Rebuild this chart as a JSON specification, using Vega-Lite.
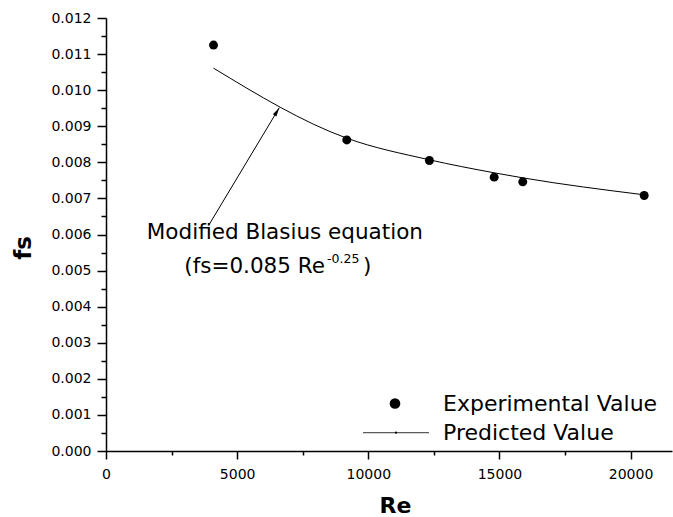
{
  "$schema": "https://vega.github.io/schema/vega-lite/v6.json",
  "width": 566,
  "height": 433,
  "autosize": {"type": "none"},
  "padding": {"left": 106, "top": 18, "right": 1, "bottom": 66},
  "background": "white",
  "config": {
    "view": {"stroke": null},
    "axis": {
      "grid": false,
      "domainColor": "#000000",
      "domainWidth": 1.5,
      "tickColor": "#000000",
      "tickWidth": 1.5,
      "labelFont": "DejaVu Sans",
      "labelFontSize": 14,
      "labelColor": "#000000",
      "titleFont": "DejaVu Sans",
      "titleFontWeight": "bold",
      "titleColor": "#000000",
      "labelOverlap": false,
      "labelFlush": false
    }
  },
  "datasets": {
    "exp": [
      {"Re": 4100, "fs": 0.01125},
      {"Re": 9180, "fs": 0.00862},
      {"Re": 12330, "fs": 0.00805},
      {"Re": 14800, "fs": 0.00759},
      {"Re": 15890, "fs": 0.00746},
      {"Re": 20520, "fs": 0.00708}
    ],
    "pred": [
      {"Re": 4100, "fs": 0.01061},
      {"Re": 9180, "fs": 0.00867},
      {"Re": 12330, "fs": 0.00807},
      {"Re": 14800, "fs": 0.00771},
      {"Re": 15890, "fs": 0.00757},
      {"Re": 20520, "fs": 0.00710}
    ],
    "arrow": [{"Re": 3946, "fs": 0.006291, "Re2": 6607, "fs2": 0.009514}],
    "arrowhead": [{"Re": 6607, "fs": 0.009514}],
    "line1": [{"Re": 6821, "fs": 0.005867, "label": "Modified Blasius equation"}],
    "line2": [{"Re": 8350, "fs": 0.004941, "label": "(fs=0.085 Re"}],
    "sup": [{"Re": 8426, "fs": 0.005219, "label": "-0.25"}],
    "paren": [{"Re": 9799, "fs": 0.004941, "label": ")"}],
    "legsym": [{"Re": 11019, "fs": 0.001316}],
    "legline": [{"Re": 9799, "Re2": 12315, "fs": 0.000507}],
    "legdot": [{"Re": 11057, "fs": 0.000507}],
    "legtext": [
      {"Re": 12849, "fs": 0.001316, "label": "Experimental Value"},
      {"Re": 12849, "fs": 0.000507, "label": "Predicted Value"}
    ]
  },
  "layer": [
    {
      "data": {"name": "pred"},
      "mark": {"type": "line", "color": "#000000", "strokeWidth": 1, "interpolate": "monotone"},
      "encoding": {
        "x": {
          "field": "Re", "type": "quantitative",
          "scale": {"domain": [0, 21580], "nice": false, "zero": false},
          "axis": {
            "values": [0, 2500, 5000, 7500, 10000, 12500, 15000, 17500, 20000],
            "tickCount": 30,
            "labelExpr": "datum.value % 5000 === 0 ? format(datum.value, 'd') : ''",
            "tickSize": {"condition": {"test": "datum.value % 5000 === 0", "value": 8}, "value": 4},
            "labelOverlap": false,
            "labelBound": false,
            "labelPadding": 8,
            "title": "Re",
            "titleFontSize": 22,
            "titleX": 289,
            "titleY": 54,
            "titleAlign": "center",
            "titleBaseline": "middle"
          }
        },
        "y": {
          "field": "fs", "type": "quantitative",
          "scale": {"domain": [0, 0.012], "nice": false, "zero": false},
          "axis": {
            "values": [0, 0.0005, 0.001, 0.0015, 0.002, 0.0025, 0.003, 0.0035, 0.004, 0.0045, 0.005, 0.0055, 0.006, 0.0065, 0.007, 0.0075, 0.008, 0.0085, 0.009, 0.0095, 0.01, 0.0105, 0.011, 0.0115, 0.012],
            "tickCount": 40,
            "labelExpr": "abs(datum.value*1000 - round(datum.value*1000)) < 0.01 ? format(datum.value, '.3f') : ''",
            "tickSize": {"condition": {"test": "abs(datum.value*1000 - round(datum.value*1000)) < 0.01", "value": 9}, "value": 5},
            "labelOverlap": false,
            "labelBound": false,
            "labelPadding": 6,
            "title": "fs",
            "titleFontSize": 23,
            "titleAngle": -90,
            "titleX": -83,
            "titleY": 229.5,
            "titleAlign": "center",
            "titleBaseline": "middle"
          }
        }
      }
    },
    {
      "data": {"name": "exp"},
      "mark": {"type": "point", "filled": true, "shape": "circle", "size": 80, "color": "#000000", "opacity": 1},
      "encoding": {
        "x": {"field": "Re", "type": "quantitative"},
        "y": {"field": "fs", "type": "quantitative"}
      }
    },
    {
      "data": {"name": "arrow"},
      "mark": {"type": "rule", "color": "#000000", "strokeWidth": 1},
      "encoding": {
        "x": {"field": "Re", "type": "quantitative"},
        "y": {"field": "fs", "type": "quantitative"},
        "x2": {"field": "Re2"},
        "y2": {"field": "fs2"}
      }
    },
    {
      "data": {"name": "arrowhead"},
      "mark": {"type": "point", "filled": true, "shape": "M0,0L-0.45,2L0.45,2Z", "size": 81, "angle": 31, "color": "#000000", "opacity": 1},
      "encoding": {
        "x": {"field": "Re", "type": "quantitative"},
        "y": {"field": "fs", "type": "quantitative"}
      }
    },
    {
      "data": {"name": "line1"},
      "mark": {"type": "text", "font": "DejaVu Sans", "fontSize": 21.5, "align": "center", "baseline": "alphabetic", "color": "#000000"},
      "encoding": {
        "x": {"field": "Re", "type": "quantitative"},
        "y": {"field": "fs", "type": "quantitative"},
        "text": {"field": "label"}
      }
    },
    {
      "data": {"name": "line2"},
      "mark": {"type": "text", "font": "DejaVu Sans", "fontSize": 21.5, "align": "right", "baseline": "alphabetic", "color": "#000000"},
      "encoding": {
        "x": {"field": "Re", "type": "quantitative"},
        "y": {"field": "fs", "type": "quantitative"},
        "text": {"field": "label"}
      }
    },
    {
      "data": {"name": "sup"},
      "mark": {"type": "text", "font": "DejaVu Sans", "fontSize": 12.5, "align": "left", "baseline": "alphabetic", "color": "#000000"},
      "encoding": {
        "x": {"field": "Re", "type": "quantitative"},
        "y": {"field": "fs", "type": "quantitative"},
        "text": {"field": "label"}
      }
    },
    {
      "data": {"name": "paren"},
      "mark": {"type": "text", "font": "DejaVu Sans", "fontSize": 21.5, "align": "left", "baseline": "alphabetic", "color": "#000000"},
      "encoding": {
        "x": {"field": "Re", "type": "quantitative"},
        "y": {"field": "fs", "type": "quantitative"},
        "text": {"field": "label"}
      }
    },
    {
      "data": {"name": "legsym"},
      "mark": {"type": "point", "filled": true, "shape": "circle", "size": 113, "color": "#000000", "opacity": 1},
      "encoding": {
        "x": {"field": "Re", "type": "quantitative"},
        "y": {"field": "fs", "type": "quantitative"}
      }
    },
    {
      "data": {"name": "legline"},
      "mark": {"type": "rule", "color": "#333333", "strokeWidth": 1},
      "encoding": {
        "x": {"field": "Re", "type": "quantitative"},
        "x2": {"field": "Re2"},
        "y": {"field": "fs", "type": "quantitative"}
      }
    },
    {
      "data": {"name": "legdot"},
      "mark": {"type": "point", "filled": true, "shape": "circle", "size": 5, "color": "#000000", "opacity": 1},
      "encoding": {
        "x": {"field": "Re", "type": "quantitative"},
        "y": {"field": "fs", "type": "quantitative"}
      }
    },
    {
      "data": {"name": "legtext"},
      "mark": {"type": "text", "font": "DejaVu Sans", "fontSize": 22, "align": "left", "baseline": "middle", "color": "#000000"},
      "encoding": {
        "x": {"field": "Re", "type": "quantitative"},
        "y": {"field": "fs", "type": "quantitative"},
        "text": {"field": "label"}
      }
    }
  ]
}
